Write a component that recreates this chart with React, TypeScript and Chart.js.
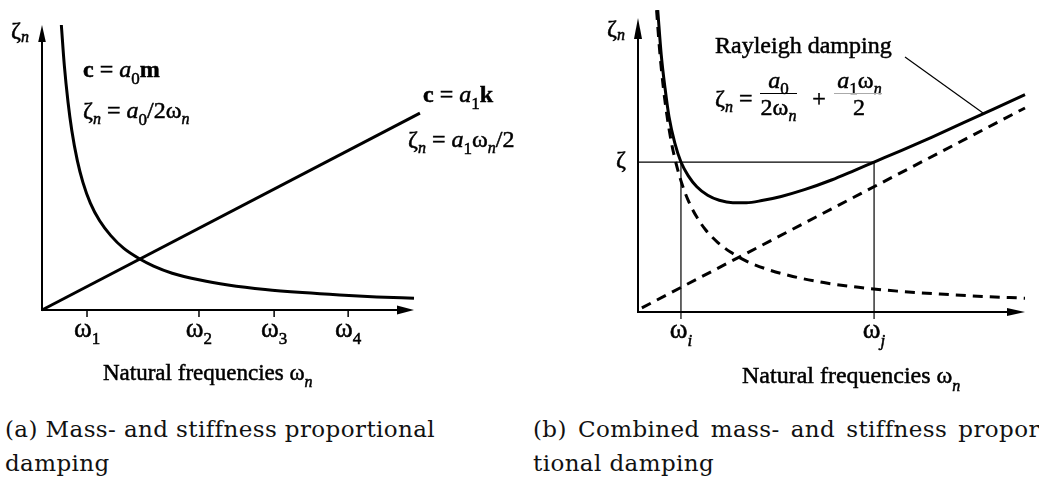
import React, { useEffect, useRef } from 'react';
import { Chart, registerables } from 'chart.js';

Chart.register(...registerables);

// ---------- Panel (a): mass- and stiffness-proportional damping ----------
const massAX = [5.2, 6, 7, 8, 9.5, 11, 13, 15.5, 18.5, 22, 26.3, 30, 35, 42.5, 50, 60, 70, 80, 90, 100];
const massAY = [100, 85.8, 72.9, 63.1, 52.4, 44.8, 37.5, 31.3, 26.1, 21.6, 17.9, 15.4, 12.9, 10.5, 8.8, 7.2, 6.1, 5.25, 4.6, 4.1];
const stiffAX = [0, 101.6];
const stiffAY = [0, 69.1];
const ticksA = [12.1, 42.2, 62.4, 82.3];
const tickSubsA = ['1', '2', '3', '4'];

// ---------- Panel (b): Rayleigh damping ----------
const massBX = [4.8, 5.5, 6.5, 7.5, 8.7, 10, 11.5, 13, 15, 17.5, 20.5, 24, 28, 33, 40, 48, 57, 67, 78, 89, 100];
const massBY = [102.7, 90.4, 76.9, 66.7, 57.2, 49.7, 43.0, 37.9, 32.7, 27.9, 23.8, 20.3, 17.3, 14.7, 12.1, 10.0, 8.4, 7.1, 6.1, 5.3, 4.7];
const stiffBX = [1.0, 100];
const stiffBY = [1.4, 69.4];
const rayBX = [5.1, 6, 7, 8, 9.5, 11.1, 13, 15.2, 18, 21, 24.5, 28, 32, 37, 43, 50, 56, 61, 68, 76, 84, 92, 100];
const rayBY = [102.7, 87.5, 76, 66.5, 57.5, 51.0, 46.3, 42.6, 39.7, 38.0, 37.2, 37.2, 37.9, 39.3, 41.6, 44.9, 48.2, 51.0, 54.9, 59.5, 64.3, 69.1, 73.9];
const ticksB = [11.1, 61.0];
const tickSubsB = ['i', 'j'];
const zetaLevel = 51.0;

const captionA = ['(a) Mass- and stiffness proportional', 'damping'];
const captionB1 = ['(b)', 'Combined', 'mass-', 'and', 'stiffness', 'propor-'];
const captionB2 = 'tional damping';

// ---------- helpers ----------
const TF = '"Liberation Serif", "Times New Roman", serif';
const R = (s: number) => `${s}px ${TF}`;
const I = (s: number) => `italic ${s}px ${TF}`;
const B = (s: number) => `bold ${s}px ${TF}`;

type Seg = { t: string; font: string; dy?: number };

function drawRich(ctx: CanvasRenderingContext2D, x: number, y: number, segs: Seg[], align: 'left' | 'center' = 'left') {
  let w = 0;
  for (const s of segs) {
    ctx.font = s.font;
    w += ctx.measureText(s.t).width;
  }
  let cx = align === 'center' ? x - w / 2 : x;
  ctx.lineWidth = 0.5;
  ctx.strokeStyle = '#000';
  for (const s of segs) {
    ctx.font = s.font;
    ctx.fillText(s.t, cx, y + (s.dy || 0));
    ctx.strokeText(s.t, cx, y + (s.dy || 0));
    cx += ctx.measureText(s.t).width;
  }
  return w;
}

function line(ctx: CanvasRenderingContext2D, x1: number, y1: number, x2: number, y2: number, lw: number, color = '#000') {
  ctx.save();
  ctx.strokeStyle = color;
  ctx.lineWidth = lw;
  ctx.beginPath();
  ctx.moveTo(x1, y1);
  ctx.lineTo(x2, y2);
  ctx.stroke();
  ctx.restore();
}

function arrowUp(ctx: CanvasRenderingContext2D, x: number, tipY: number, len: number, half: number) {
  ctx.beginPath();
  ctx.moveTo(x, tipY);
  ctx.lineTo(x - half, tipY + len);
  ctx.lineTo(x + half, tipY + len);
  ctx.closePath();
  ctx.fill();
}

function arrowRight(ctx: CanvasRenderingContext2D, tipX: number, y: number, len: number, half: number) {
  ctx.beginPath();
  ctx.moveTo(tipX, y);
  ctx.lineTo(tipX - len, y - half);
  ctx.lineTo(tipX - len, y + half);
  ctx.closePath();
  ctx.fill();
}

const pts = (xs: number[], ys: number[]) => xs.map((x, i) => ({ x, y: ys[i] }));

function baseOptions(padding: any) {
  return {
    responsive: false,
    maintainAspectRatio: false,
    animation: false as const,
    events: [] as any[],
    layout: { padding },
    plugins: { legend: { display: false }, tooltip: { enabled: false }, title: { display: false } },
    scales: {
      x: { type: 'linear' as const, min: 0, max: 100, display: false },
      y: { type: 'linear' as const, min: 0, max: 100, display: false },
    },
  };
}

const solid = (data: any[], curve: boolean) => ({
  data,
  borderColor: '#000',
  borderWidth: 3,
  pointRadius: 0,
  fill: false,
  clip: false as any,
  tension: 0,
  cubicInterpolationMode: curve ? ('monotone' as const) : ('default' as const),
});

const dashed = (data: any[], curve: boolean) => ({
  ...solid(data, curve),
  borderDash: [10, 7],
});

// ---------- plugins ----------
const panelAPlugin = {
  id: 'panelA',
  beforeDatasetsDraw(chart: any) {
    const ctx: CanvasRenderingContext2D = chart.ctx;
    const X = (v: number) => chart.scales.x.getPixelForValue(v);
    const Y = (v: number) => chart.scales.y.getPixelForValue(v);
    ctx.save();
    ctx.fillStyle = '#000';
    line(ctx, X(0), Y(0) + 1, X(0), Y(100) + 10, 2);
    arrowUp(ctx, X(0), Y(100), 17, 3.8);
    line(ctx, X(0) - 1, Y(0), X(100) - 10, Y(0), 2);
    arrowRight(ctx, X(100), Y(0), 17, 4.5);
    ticksA.forEach((t) => line(ctx, X(t), Y(0), X(t), Y(0) + 7, 1.5));
    ctx.restore();
  },
  afterDatasetsDraw(chart: any) {
    const ctx: CanvasRenderingContext2D = chart.ctx;
    const X = (v: number) => chart.scales.x.getPixelForValue(v);
    const Y = (v: number) => chart.scales.y.getPixelForValue(v);
    ctx.save();
    ctx.fillStyle = '#000';
    ctx.textBaseline = 'alphabetic';
    ctx.textAlign = 'left';
    drawRich(ctx, 11, 38, [{ t: 'ζ', font: R(24) }, { t: 'n', font: I(16), dy: 4 }]);
    drawRich(ctx, 83, 77, [
      { t: 'c', font: B(24) }, { t: ' = ', font: R(24) }, { t: 'a', font: I(24) },
      { t: '0', font: R(17), dy: 7 }, { t: 'm', font: B(24) },
    ]);
    drawRich(ctx, 83, 118, [
      { t: 'ζ', font: R(24) }, { t: 'n', font: I(16), dy: 6 }, { t: ' = ', font: R(24) },
      { t: 'a', font: I(24) }, { t: '0', font: R(17), dy: 7 }, { t: '/2ω', font: R(24) },
      { t: 'n', font: I(16), dy: 6 },
    ]);
    drawRich(ctx, 423, 102, [
      { t: 'c', font: B(24) }, { t: ' = ', font: R(24) }, { t: 'a', font: I(24) },
      { t: '1', font: R(17), dy: 7 }, { t: 'k', font: B(24) },
    ]);
    drawRich(ctx, 408, 147, [
      { t: 'ζ', font: R(24) }, { t: 'n', font: I(16), dy: 6 }, { t: ' = ', font: R(24) },
      { t: 'a', font: I(24) }, { t: '1', font: R(17), dy: 7 }, { t: 'ω', font: R(24) },
      { t: 'n', font: I(16), dy: 6 }, { t: '/2', font: R(24) },
    ]);
    ticksA.forEach((t, i) =>
      drawRich(ctx, X(t), Y(0) + 27, [{ t: 'ω', font: R(27) }, { t: tickSubsA[i], font: R(17), dy: 7 }], 'center')
    );
    drawRich(ctx, 103, 380, [{ t: 'Natural frequencies ω', font: R(23) }, { t: 'n', font: I(16), dy: 7 }]);
    ctx.restore();
  },
};

const OX = 520;
const panelBPlugin = {
  id: 'panelB',
  beforeDatasetsDraw(chart: any) {
    const ctx: CanvasRenderingContext2D = chart.ctx;
    const X = (v: number) => chart.scales.x.getPixelForValue(v);
    const Y = (v: number) => chart.scales.y.getPixelForValue(v);
    ctx.save();
    ctx.fillStyle = '#000';
    line(ctx, X(0), Y(0) + 1, X(0), Y(100) + 10, 2);
    arrowUp(ctx, X(0), Y(100), 21, 4);
    line(ctx, X(0) - 1, Y(0), X(100) - 10, Y(0), 2);
    arrowRight(ctx, X(100), Y(0), 18, 4);
    line(ctx, X(0), Y(zetaLevel), X(ticksB[1]), Y(zetaLevel), 1.2);
    ticksB.forEach((t) => line(ctx, X(t), Y(zetaLevel), X(t), Y(0) + 7, 1.2));
    ctx.restore();
  },
  afterDatasetsDraw(chart: any) {
    const ctx: CanvasRenderingContext2D = chart.ctx;
    const X = (v: number) => chart.scales.x.getPixelForValue(v);
    const Y = (v: number) => chart.scales.y.getPixelForValue(v);
    ctx.save();
    ctx.fillStyle = '#000';
    ctx.textBaseline = 'alphabetic';
    ctx.textAlign = 'left';
    drawRich(ctx, 607 - OX, 36, [{ t: 'ζ', font: R(24) }, { t: 'n', font: I(16), dy: 4 }]);
    drawRich(ctx, 616 - OX, 167, [{ t: 'ζ', font: R(24) }]);
    drawRich(ctx, 715 - OX, 53, [{ t: 'Rayleigh damping', font: R(24) }]);
    line(ctx, 905 - OX, 57, 983 - OX, 113, 1.2);
    drawRich(ctx, 715 - OX, 106, [{ t: 'ζ', font: R(24) }, { t: 'n', font: I(16), dy: 6 }, { t: ' =', font: R(24) }]);
    drawRich(ctx, 778.5 - OX, 88, [{ t: 'a', font: I(24) }, { t: '0', font: R(17), dy: 6 }], 'center');
    line(ctx, 760 - OX, 93.5, 797 - OX, 93.5, 1.2);
    drawRich(ctx, 778.5 - OX, 115, [{ t: '2ω', font: R(24) }, { t: 'n', font: I(16), dy: 6 }], 'center');
    drawRich(ctx, 819 - OX, 106, [{ t: '+', font: R(24) }], 'center');
    drawRich(ctx, 859.5 - OX, 88, [
      { t: 'a', font: I(24) }, { t: '1', font: R(17), dy: 6 }, { t: 'ω', font: R(24) }, { t: 'n', font: I(16), dy: 6 },
    ], 'center');
    line(ctx, 834 - OX, 93.5, 882 - OX, 93.5, 1, '#aaa');
    drawRich(ctx, 859 - OX, 115, [{ t: '2', font: R(24) }], 'center');
    ticksB.forEach((t, i) =>
      drawRich(ctx, X(t), Y(0) + 26, [{ t: 'ω', font: R(27) }, { t: tickSubsB[i], font: I(17), dy: 8 }], 'center')
    );
    drawRich(ctx, 742 - OX, 383, [{ t: 'Natural frequencies ω', font: R(24) }, { t: 'n', font: I(16), dy: 8 }]);
    ctx.restore();
  },
};

export default function App() {
  const refA = useRef<HTMLCanvasElement>(null);
  const refB = useRef<HTMLCanvasElement>(null);

  useEffect(() => {
    const chartA = new Chart(refA.current as HTMLCanvasElement, {
      type: 'line',
      data: { datasets: [solid(pts(massAX, massAY), true), solid(pts(stiffAX, stiffAY), false)] as any },
      options: baseOptions({ left: 42, top: 25, right: 106, bottom: 90 }) as any,
      plugins: [panelAPlugin],
    });
    const chartB = new Chart(refB.current as HTMLCanvasElement, {
      type: 'line',
      data: {
        datasets: [
          dashed(pts(massBX, massBY), true),
          dashed(pts(stiffBX, stiffBY), false),
          solid(pts(rayBX, rayBY), true),
        ] as any,
      },
      options: baseOptions({ left: 118, top: 18, right: 14, bottom: 88 }) as any,
      plugins: [panelBPlugin],
    });
    return () => {
      chartA.destroy();
      chartB.destroy();
    };
  }, []);

  const cap: React.CSSProperties = {
    position: 'absolute',
    fontFamily: '"DejaVu Serif", serif',
    fontSize: 23,
    letterSpacing: '0.4px',
    lineHeight: '34px',
    whiteSpace: 'nowrap',
    color: '#111',
  };

  return (
    <div style={{ position: 'absolute', left: 0, top: 0, width: 1039, height: 481, overflow: 'hidden', background: '#fff' }}>
      <canvas ref={refA} width={520} height={400} style={{ position: 'absolute', left: 0, top: 0, width: 520, height: 400 }} />
      <canvas ref={refB} width={519} height={400} style={{ position: 'absolute', left: OX, top: 0, width: 519, height: 400 }} />
      <div style={{ ...cap, left: 5, top: 412 }}>{captionA[0]}</div>
      <div style={{ ...cap, left: 5, top: 446 }}>{captionA[1]}</div>
      <div style={{ ...cap, left: 533, top: 412, width: 515, display: 'flex', justifyContent: 'space-between' }}>
        {captionB1.map((w, i) => (
          <span key={i}>{w}</span>
        ))}
      </div>
      <div style={{ ...cap, left: 533, top: 446 }}>{captionB2}</div>
    </div>
  );
}
